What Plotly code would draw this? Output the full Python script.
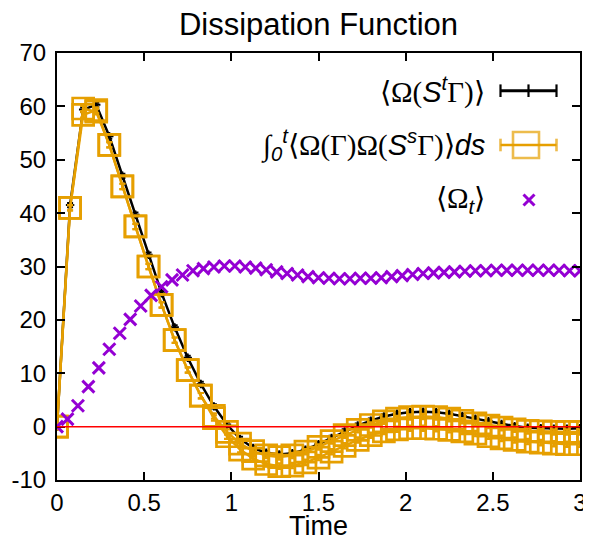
import plotly.graph_objects as go

# ---- data ----
t_main = [round(0.075 * i, 3) for i in range(41)]
omega_st = [0, 41.5, 59.4, 60.3, 54.4, 47.0, 39.7, 32.2, 25.0, 18.6, 12.9, 8.0, 3.8, 0.4,
            -2.3, -4.0, -4.9, -5.2, -5.0, -4.3, -3.3, -2.1, -0.9, 0.2, 1.1, 1.9, 2.4,
            2.7, 2.8, 2.7, 2.4, 2.0, 1.5, 1.0, 0.5, 0.1, -0.2, -0.3, -0.4, -0.4, -0.3]
omega_st_err = [0.4] * 41

integral_a = [0, 41.0, 58.4, 59.3, 52.8, 45.0, 37.5, 30.0, 22.8, 16.2, 10.6, 5.8, 2.0, -1.0,
              -3.2, -4.6, -5.4, -5.7, -5.4, -4.7, -3.8, -2.7, -1.6, -0.6, 0.3, 1.0, 1.5,
              1.8, 1.9, 1.8, 1.5, 1.1, 0.6, 0.2, -0.2, -0.5, -0.8, -0.9, -1.0, -1.0, -1.0]
integral_b = [0, 41.0, 59.6, 59.0, 52.8, 45.0, 37.5, 30.0, 22.8, 16.2, 10.6, 5.8, 1.6, -1.8,
              -4.3, -6.0, -7.0, -7.4, -7.3, -6.7, -5.8, -4.7, -3.6, -2.5, -1.6, -0.9, -0.5,
              -0.3, -0.3, -0.4, -0.6, -0.9, -1.3, -1.8, -2.2, -2.5, -2.8, -3.0, -3.2, -3.3, -3.3]
integral_err = [0.5] * 41

t_omega = [round(0.06 * i, 2) for i in range(51)]
omega_t = [0, 1.4, 3.9, 7.5, 11.0, 14.5, 17.5, 20.1, 22.6, 24.6, 26.2, 27.5, 28.4, 29.2,
           29.6, 29.9, 30.1, 30.1, 29.9, 29.7, 29.4, 29.0, 28.7, 28.4, 28.1, 27.9, 27.8,
           27.7, 27.7, 27.8, 27.8, 27.9, 28.1, 28.3, 28.5, 28.7, 28.8, 28.9, 29.0, 29.1,
           29.2, 29.2, 29.3, 29.3, 29.3, 29.3, 29.3, 29.3, 29.3, 29.2, 29.2]

x_ticks = [0, 0.5, 1, 1.5, 2, 2.5, 3]
x_ticktext = ["0", "0.5", "1", "1.5", "2", "2.5", "3"]
y_ticks = [-10, 0, 10, 20, 30, 40, 50, 60, 70]
y_ticktext = ["-10", "0", "10", "20", "30", "40", "50", "60", "70"]

BLACK = "#000000"
ORANGE = "#E69F00"
PURPLE = "#9400D3"

fig = go.Figure()

fig.add_trace(go.Scatter(
    x=t_main, y=omega_st, mode="lines+markers",
    line=dict(color=BLACK, width=2.5),
    marker=dict(symbol="cross-thin", size=6, color=BLACK, line=dict(color=BLACK, width=2)),
    error_y=dict(type="data", array=omega_st_err, color=BLACK, thickness=2, width=3),
    showlegend=False))

for series in (integral_a, integral_b):
    fig.add_trace(go.Scatter(
        x=t_main, y=series, mode="lines+markers",
        line=dict(color=ORANGE, width=2.5),
        marker=dict(symbol="square-open", size=21, color=ORANGE, line=dict(color=ORANGE, width=2.7)),
        error_y=dict(type="data", array=integral_err, color=ORANGE, thickness=2.2, width=3),
        showlegend=False))

fig.add_trace(go.Scatter(
    x=t_omega, y=omega_t, mode="markers",
    marker=dict(symbol="x-thin", size=12, color=PURPLE, line=dict(color=PURPLE, width=3)),
    showlegend=False))

# zero line
fig.add_hline(y=0, line=dict(color="#FF0000", width=1.5), layer="above")

# ---- legend (gnuplot style: text left, key sample right) ----
# page pixel -> plot-fraction coordinates (plot area spans x 57..580, y 53..480 on the page)
def px(x):
    return (x - 57) / 523

def py(y):
    return (480 - y) / 427

KEY = dict(xaxis="x2", yaxis="y2", showlegend=False, hoverinfo="skip")
fig.add_trace(go.Scatter(
    x=[px(500.5), px(528.5), px(556.5)], y=[py(90.7)] * 3, mode="lines+markers",
    line=dict(color=BLACK, width=3),
    marker=dict(symbol="line-ns", size=9, color=BLACK, line=dict(color=BLACK, width=2.2)), **KEY))
fig.add_trace(go.Scatter(
    x=[px(500.5), px(526), px(556.5)], y=[py(145)] * 3, mode="lines+markers",
    line=dict(color=ORANGE, width=2.5),
    marker=dict(symbol=["line-ns", "square-open", "line-ns"], size=[9, 26, 9], color=ORANGE,
                line=dict(color=ORANGE, width=2.6)), **KEY))
fig.add_trace(go.Scatter(
    x=[px(529)], y=[py(200)], mode="markers",
    marker=dict(symbol="x-thin", size=11, color=PURPLE, line=dict(color=PURPLE, width=3)), **KEY))

SERIF = "font-family:'Liberation Serif'"
legend_texts = [
    (90.7, f"<span style=\"{SERIF}\">⟨Ω(</span><i>S</i><sup><i>t</i></sup><span style=\"{SERIF}\">Γ)⟩</span>"),
    (145, f"<span style=\"{SERIF}\">∫</span><sub><i>0</i></sub><sup><i>t</i></sup>"
          f"<span style=\"{SERIF}\">⟨Ω(Γ)Ω(</span><i>S</i><sup><i>s</i></sup>"
          f"<span style=\"{SERIF}\">Γ)⟩</span><i>ds</i>"),
    (200, f"<span style=\"{SERIF}\">⟨Ω</span><sub><i>t</i></sub><span style=\"{SERIF}\">⟩</span>"),
]
annotations = []
for yy, txt in legend_texts:
    annotations.append(dict(xref="paper", yref="paper", x=px(487), y=py(yy), xanchor="right",
                            yanchor="middle", text=txt, showarrow=False,
                            font=dict(family="Liberation Sans", size=29, color="black")))
annotations.append(dict(xref="paper", yref="paper", x=0.5, y=py(526), xanchor="center",
                        yanchor="middle", text="Time", showarrow=False,
                        font=dict(family="Liberation Sans", size=27, color="black")))

# the page body has an 8px margin, so the figure is sized/offset to land on the same pixels
fig.update_layout(
    width=583, height=533,
    margin=dict(l=49, r=11, t=45, b=61, autoexpand=False),
    plot_bgcolor="white", paper_bgcolor="white",
    font=dict(family="Liberation Sans", size=24, color="black"),
    title=dict(text="Dissipation Function", xref="paper", x=0.5, xanchor="center",
               y=1 - 16 / 533, yanchor="middle",
               font=dict(family="Liberation Sans", size=31, color="black")),
    annotations=annotations,
    xaxis=dict(range=[0, 3], tickvals=x_ticks, ticktext=x_ticktext, ticks="inside", ticklen=8,
               tickwidth=1.5, tickcolor="black", showline=True, linecolor="black", linewidth=2,
               mirror="allticks", showgrid=False, zeroline=False, automargin=False,
               ticklabelstandoff=0, tickfont=dict(size=24)),
    yaxis=dict(range=[-10, 70], tickvals=y_ticks, ticktext=y_ticktext, ticks="inside", ticklen=8,
               tickwidth=1.5, tickcolor="black", showline=True, linecolor="black", linewidth=2,
               mirror="allticks", showgrid=False, zeroline=False, automargin=False,
               ticklabelstandoff=4, tickfont=dict(size=24)),
    xaxis2=dict(overlaying="x", range=[0, 1], visible=False, fixedrange=True),
    yaxis2=dict(overlaying="y", range=[0, 1], visible=False, fixedrange=True),
)

fig.write_html("out.html")
